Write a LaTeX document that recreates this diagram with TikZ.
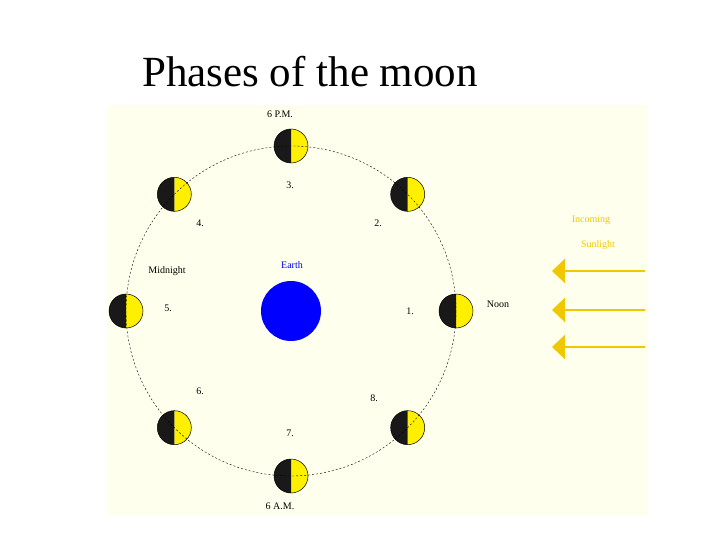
\documentclass[tikz,border=0pt]{standalone}
\usepackage{fontspec}
\setmainfont{Liberation Serif}
\usetikzlibrary{arrows.meta,calc}
\definecolor{bg}{RGB}{255,255,238}
\definecolor{moony}{RGB}{255,240,0}
\definecolor{gold}{RGB}{240,200,0}
\begin{document}
\begin{tikzpicture}[x=1pt,y=-1pt,
  lbl/.style={font=\fontsize{10}{10}\selectfont},
  sun/.style={draw=gold,line width=2.5pt,-{Triangle[length=13pt,width=24pt]}}]
\useasboundingbox (0,0) rectangle (720,540);
\fill[white] (0,0) rectangle (720,540);
\fill[bg] (108,105) rectangle (648,515);
\node[font=\fontsize{43}{43}\selectfont] (title) at (310,72) {Phases of the moon};
\node[circle,fill=blue,minimum size=60pt,inner sep=0] (earth) at (291,311) {};
\foreach \a [count=\i] in {0,45,90,135,180,225,270,315}{
  \coordinate (m\i) at ($(291,311)+(\a:165)$);
}
\foreach \i in {1,...,8}{
  \begin{scope}[shift={(m\i)}]
  \fill[moony] (0,-17) arc[start angle=-90,end angle=90,radius=17];
  \fill[black!90] (0,-17) arc[start angle=-90,end angle=-270,radius=17];
  \draw[black,line width=0.5pt] (0,0) circle[radius=17];
  \end{scope}
}
\draw[line width=0.4pt,dash pattern=on 2pt off 2pt] (291,311) circle[radius=165];
\node[lbl] (l6pm) at (280,114) {6 P.M.};
\node[lbl] (l3) at (290,185) {3.};
\node[lbl] (l2) at (378,223) {2.};
\node[lbl] (l4) at (200,223) {4.};
\node[lbl] (mid) at (167,271) {Midnight};
\node[lbl,text=blue] (le) at (292,265) {Earth};
\node[lbl] (l5) at (168,308) {5.};
\node[lbl] (l1) at (410,311) {1.};
\node[lbl] (noon) at (498,304) {Noon};
\node[lbl] (l6) at (200,391) {6.};
\node[lbl] (l8) at (374,398) {8.};
\node[lbl] (l7) at (290,433) {7.};
\node[lbl] (l6am) at (280,506) {6 A.M.};
\node[lbl,text=gold] (inc) at (591,220) {Incoming};
\node[lbl,text=gold] (sl) at (598,245) {Sunlight};
\foreach \y [count=\k] in {271,310,347}{
  \coordinate (s\k) at (645,\y);
  \coordinate (e\k) at (552,\y);
  \draw[sun] (s\k) -- (e\k);
}
\end{tikzpicture}
\end{document}
